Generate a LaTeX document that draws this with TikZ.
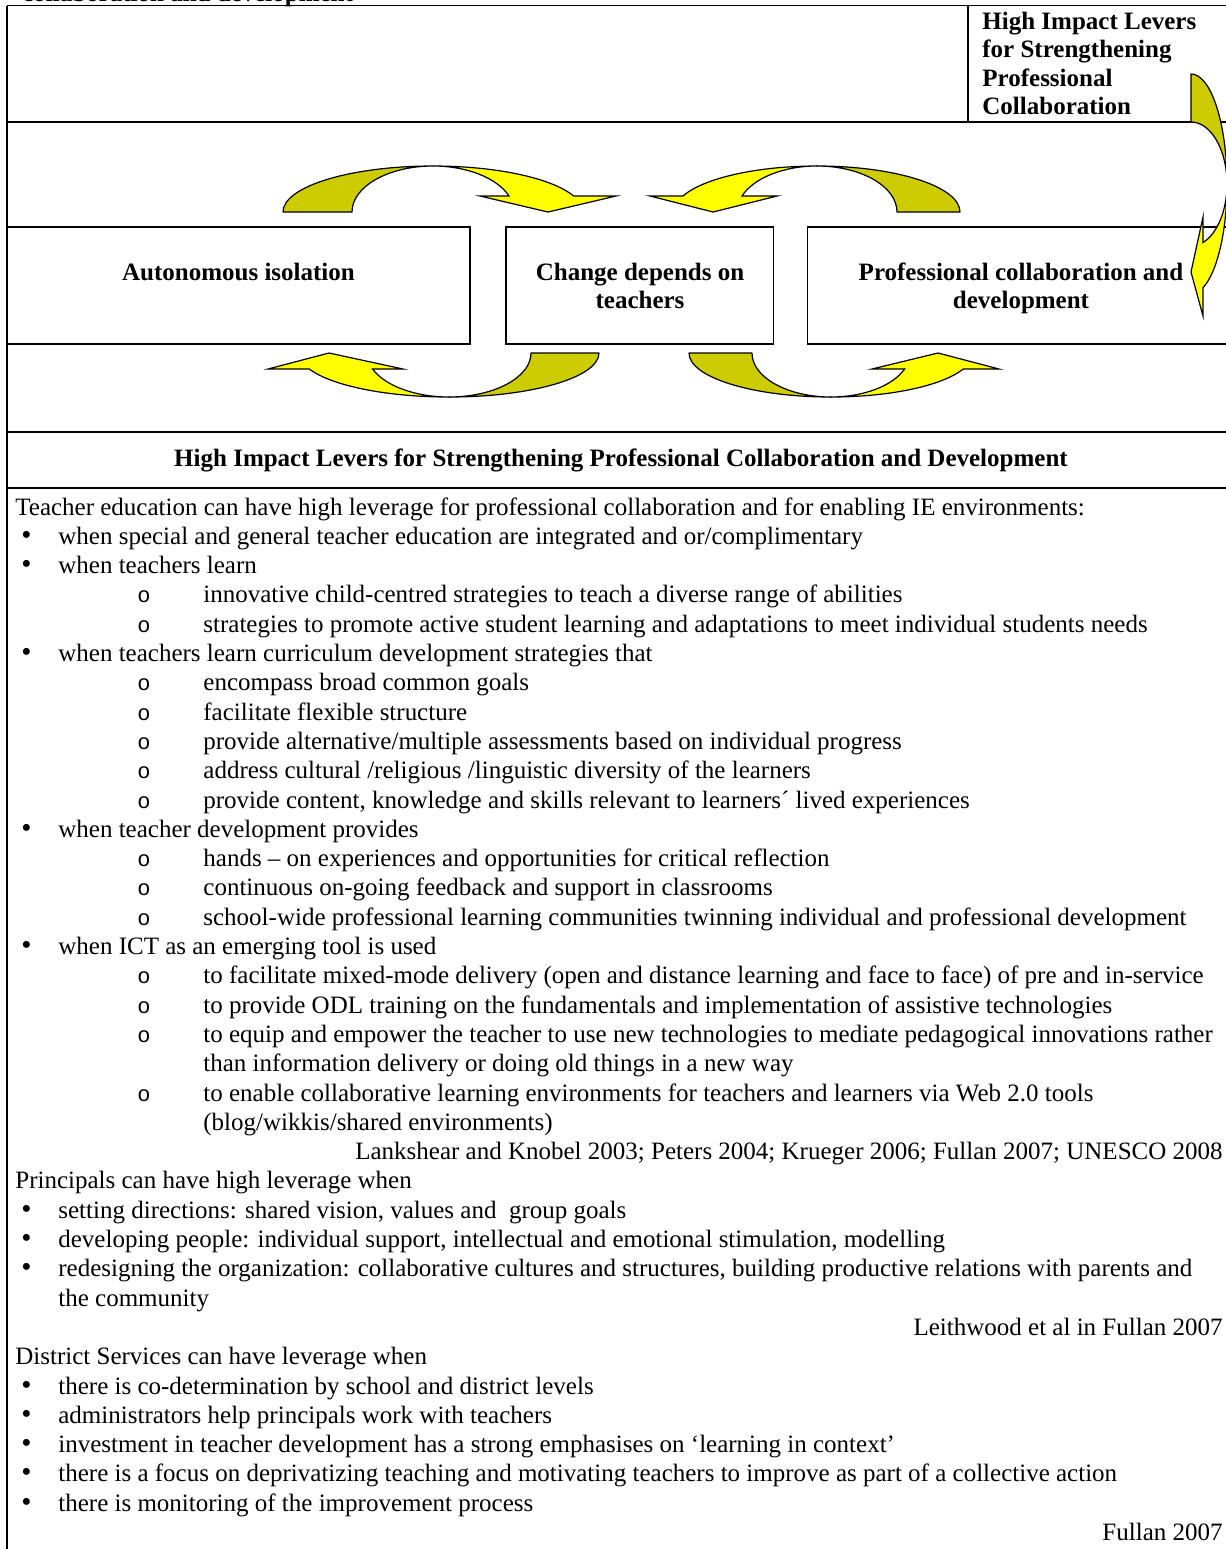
\documentclass[tikz,border=0pt]{standalone}
\usepackage{fontspec}
\setmainfont{Liberation Serif}
\newfontfamily\markfont{Liberation Mono}
\definecolor{bandback}{HTML}{CCCC00}
\definecolor{bandfront}{HTML}{FFFF00}
\newcommand{\txtsize}{\fontsize{12.5}{14.3}\selectfont}
\begin{document}
\begin{tikzpicture}[x=0.5pt,y=-0.5pt,
  rule/.style={line width=0.9pt},
  txt/.style={inner sep=0pt,font=\txtsize},
  ln/.style={txt,anchor=base west},
  lnr/.style={txt,anchor=base east},
  lnc/.style={txt,anchor=base},
  strong/.style={font=\txtsize\bfseries},
  dot/.style={inner sep=0pt,anchor=base west,font=\fontsize{14.5}{15}\selectfont},
  subdot/.style={inner sep=0pt,anchor=base west,font=\fontsize{11}{13}\selectfont\markfont},
  back/.style={fill=bandback,draw=black,line width=0.6pt,line join=round},
  front/.style={fill=bandfront,draw=black,line width=0.6pt,line join=miter},
]
\useasboundingbox (0,0) rectangle (1226,1549);
\clip (0,0) rectangle (1226,1549);
\fill[white] (0,0) rectangle (1226,1549);

% ---------- table rules ----------
\draw[rule] (7,5.5) -- (1240,5.5);
\draw[rule] (7,5.5) -- (7,1560);
\draw[rule] (968,5.5) -- (968,121.7);
\draw[rule] (7,121.7) -- (1240,121.7);
\draw[rule] (7,226.7) rectangle (470,344);
\draw[rule] (506,226.7) rectangle (773.5,344);
\draw[rule] (807.5,226.7) rectangle (1240,344);
\draw[rule] (7,432) -- (1240,432);
\draw[rule] (7,488) -- (1240,488);

% ---------- headings ----------
\node[ln,strong] (toptitle) at (22,1) {collaboration and development};
\node[ln,strong] (lev1) at (982,29) {High Impact Levers};
\node[ln,strong] (lev2) at (982,57.6) {for Strengthening};
\node[ln,strong] (lev3) at (982,86.2) {Professional};
\node[ln,strong] (lev4) at (982,114.8) {Collaboration};

\node[lnc,strong] (isol) at (238.5,280) {Autonomous isolation};
\node[lnc,strong] (chga) at (640,280) {Change depends on};
\node[lnc,strong] (chgb) at (640,308.6) {teachers};
\node[lnc,strong] (cola) at (1021,280) {Professional collaboration and};
\node[lnc,strong] (colb) at (1021,308.6) {development};

\node[lnc,strong] (levers) at (621,466) {High Impact Levers for Strengthening Professional Collaboration and Development};

% ---------- curved arrows ----------
% upper left: rises from the left, lands on the middle box
\filldraw[back] (283,212) arc[start angle=180,end angle=270,x radius=150,y radius=46]
  arc[start angle=270,end angle=180,x radius=81,y radius=46] -- cycle;
\filldraw[front] (433,166) arc[start angle=270,end angle=339.65,x radius=150,y radius=46]
  -- (616,196) -- (548,212) -- (480,196) -- (509,196)
  arc[start angle=339.65,end angle=270,x radius=81,y radius=46] -- cycle;
% upper right: rises from the right, lands on the middle box
\filldraw[back] (960,212) arc[start angle=0,end angle=-90,x radius=143,y radius=46]
  arc[start angle=-90,end angle=0,x radius=80,y radius=46] -- cycle;
\filldraw[front] (817,166) arc[start angle=270,end angle=200.35,x radius=143,y radius=46]
  -- (650,196) -- (713,212) -- (777,196) -- (742,196)
  arc[start angle=200.35,end angle=270,x radius=80,y radius=46] -- cycle;
% lower left: from the middle box back to the left box
\filldraw[back] (599,353) arc[start angle=0,end angle=90,x radius=150,y radius=44]
  arc[start angle=90,end angle=0,x radius=82,y radius=44] -- cycle;
\filldraw[front] (449,397) arc[start angle=90,end angle=158.65,x radius=150,y radius=44]
  -- (268,369) -- (329,353) -- (403,369) -- (372.6,369)
  arc[start angle=158.65,end angle=90,x radius=82,y radius=44] -- cycle;
% lower right: from the middle box on to the right box
\filldraw[back] (689,353) arc[start angle=180,end angle=90,x radius=142,y radius=44]
  arc[start angle=90,end angle=180,x radius=79,y radius=44] -- cycle;
\filldraw[front] (831,397) arc[start angle=90,end angle=21.35,x radius=142,y radius=44]
  -- (999,369) -- (938,353) -- (872,369) -- (904.6,369)
  arc[start angle=21.35,end angle=90,x radius=79,y radius=44] -- cycle;
% right edge: from the levers cell down to the collaboration box
\filldraw[back] (1191,74) arc[start angle=270,end angle=360,x radius=36,y radius=110]
  arc[start angle=0,end angle=-90,x radius=36,y radius=62] -- cycle;
\filldraw[front] (1227,184) arc[start angle=0,end angle=70.53,x radius=36,y radius=110]
  -- (1203,316) -- (1191,272) -- (1203,217) -- (1203,242.5)
  arc[start angle=70.53,end angle=0,x radius=36,y radius=62] -- cycle;

% ---------- body text ----------
\node[ln] (t1) at (15,515) {Teacher education can have high leverage for professional collaboration and for enabling IE environments:};
\node[dot] (d2) at (21,544.3) {•};
\node[ln] (t2) at (58,544.3) {when special and general teacher education are integrated and or/complimentary};
\node[dot] (d3) at (21,573.6) {•};
\node[ln] (t3) at (58,573.6) {when teachers learn};
\node[subdot] (o4) at (137,602.9) {o};
\node[ln] (t4) at (203,602.9) {innovative child-centred strategies to teach a diverse range of abilities};
\node[subdot] (o5) at (137,632.2) {o};
\node[ln] (t5) at (203,632.2) {strategies to promote active student learning and adaptations to meet individual students needs};
\node[dot] (d6) at (21,661.5) {•};
\node[ln] (t6) at (58,661.5) {when teachers learn curriculum development strategies that};
\node[subdot] (o7) at (137,690.8) {o};
\node[ln] (t7) at (203,690.8) {encompass broad common goals};
\node[subdot] (o8) at (137,720.1) {o};
\node[ln] (t8) at (203,720.1) {facilitate flexible structure};
\node[subdot] (o9) at (137,749.4) {o};
\node[ln] (t9) at (203,749.4) {provide alternative/multiple assessments based on individual progress};
\node[subdot] (o10) at (137,778.7) {o};
\node[ln] (t10) at (203,778.7) {address cultural /religious /linguistic diversity of the learners};
\node[subdot] (o11) at (137,808) {o};
\node[ln] (t11) at (203,808) {provide content, knowledge and skills relevant to learners´ lived experiences};
\node[dot] (d12) at (21,837.3) {•};
\node[ln] (t12) at (58,837.3) {when teacher development provides};
\node[subdot] (o13) at (137,866.6) {o};
\node[ln] (t13) at (203,866.6) {hands – on experiences and opportunities for critical reflection};
\node[subdot] (o14) at (137,895.9) {o};
\node[ln] (t14) at (203,895.9) {continuous on-going feedback and support in classrooms};
\node[subdot] (o15) at (137,925.2) {o};
\node[ln] (t15) at (203,925.2) {school-wide professional learning communities twinning individual and professional development};
\node[dot] (d16) at (21,954.5) {•};
\node[ln] (t16) at (58,954.5) {when ICT as an emerging tool is used};
\node[subdot] (o17) at (137,983.8) {o};
\node[ln] (t17) at (203,983.8) {to facilitate mixed-mode delivery (open and distance learning and face to face) of pre and in-service};
\node[subdot] (o18) at (137,1013.1) {o};
\node[ln] (t18) at (203,1013.1) {to provide ODL training on the fundamentals and implementation of assistive technologies};
\node[subdot] (o19) at (137,1042.4) {o};
\node[ln] (t19) at (203,1042.4) {to equip and empower the teacher to use new technologies to mediate pedagogical innovations rather};
\node[ln] (t20) at (203,1071.7) {than information delivery or doing old things in a new way};
\node[subdot] (o21) at (137,1101) {o};
\node[ln] (t21) at (203,1101) {to enable collaborative learning environments for teachers and learners via Web 2.0 tools};
\node[ln] (t22) at (203,1130.3) {(blog/wikkis/shared environments)};
\node[lnr] (t23) at (1223,1159.6) {Lankshear and Knobel 2003; Peters 2004; Krueger 2006; Fullan 2007; UNESCO 2008};
\node[ln] (t24) at (15,1188.9) {Principals can have high leverage when};
\node[dot] (d25) at (21,1218.2) {•};
\node[ln] (t25) at (58,1218.2) {setting directions: shared vision, values and\hspace{0.25em} group goals};
\node[dot] (d26) at (21,1247.5) {•};
\node[ln] (t26) at (58,1247.5) {developing people: individual support, intellectual and emotional stimulation, modelling};
\node[dot] (d27) at (21,1276.8) {•};
\node[ln] (t27) at (58,1276.8) {redesigning the organization: collaborative cultures and structures, building productive relations with parents and};
\node[ln] (t28) at (58,1306.1) {the community};
\node[lnr] (t29) at (1223,1335.4) {Leithwood et al in Fullan 2007};
\node[ln] (t30) at (15,1364.7) {District Services can have leverage when};
\node[dot] (d31) at (21,1394) {•};
\node[ln] (t31) at (58,1394) {there is co-determination by school and district levels};
\node[dot] (d32) at (21,1423.3) {•};
\node[ln] (t32) at (58,1423.3) {administrators help principals work with teachers};
\node[dot] (d33) at (21,1452.6) {•};
\node[ln] (t33) at (58,1452.6) {investment in teacher development has a strong emphasises on ‘learning in context’};
\node[dot] (d34) at (21,1481.9) {•};
\node[ln] (t34) at (58,1481.9) {there is a focus on deprivatizing teaching and motivating teachers to improve as part of a collective action};
\node[dot] (d35) at (21,1511.2) {•};
\node[ln] (t35) at (58,1511.2) {there is monitoring of the improvement process};
\node[lnr] (t36) at (1223,1540.5) {Fullan 2007};
\end{tikzpicture}
\end{document}
